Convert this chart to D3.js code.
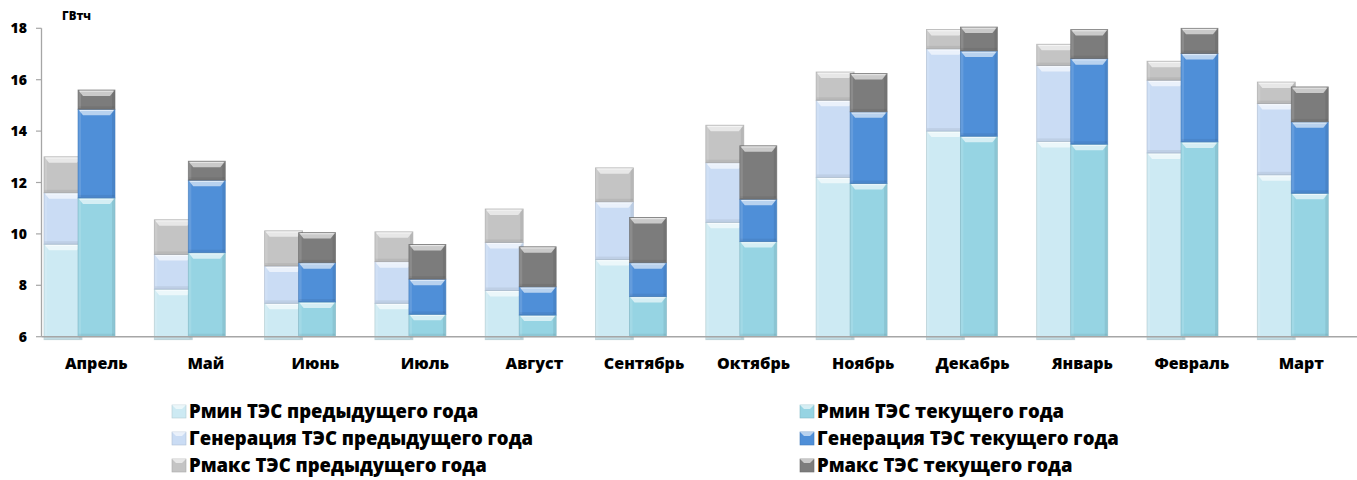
<!DOCTYPE html>
<html><head><meta charset="utf-8">
<script src="https://cdn.jsdelivr.net/npm/d3@7"></script>
<style>
body{margin:0;background:#fff;}
text{font-family:"Open Sans","Noto Sans",sans-serif;font-weight:800;fill:#000;}
</style></head>
<body><svg id="c" width="1357" height="480"></svg>
<script>
const months = ['Апрель','Май','Июнь','Июль','Август','Сентябрь','Октябрь','Ноябрь','Декабрь','Январь','Февраль','Март'];
// levels (ГВтч) previous year
const prevPmin = [9.6,7.85,7.3,7.3,7.8,9.0,10.45,12.2,14.0,13.6,13.15,12.3];
const prevGen  = [11.6,9.2,8.75,8.92,9.67,11.25,12.77,15.2,17.2,16.55,15.98,15.07];
const prevPmax = [13.0,10.55,10.12,10.08,10.97,12.57,14.23,16.3,17.95,17.38,16.72,15.91];
// levels current year
const curPmin = [11.4,9.27,7.35,6.87,6.84,7.56,9.7,11.96,13.8,13.49,13.58,11.58];
const curGen  = [14.85,12.09,8.88,8.24,7.94,8.88,11.35,14.75,17.12,16.82,17.02,14.36];
const curPmax = [15.6,12.83,10.05,9.59,9.5,10.64,13.43,16.24,18.05,17.95,18.0,15.72];
const yTicks = [6,8,10,12,14,16,18];
const unitLabel = 'ГВтч';
const legendPrev = ['Рмин ТЭС предыдущего года','Генерация ТЭС предыдущего года','Рмакс ТЭС предыдущего года'];
const legendCur  = ['Рмин ТЭС текущего года','Генерация ТЭС текущего года','Рмакс ТЭС текущего года'];
const colPrev = ['#cdeaf3','#cadcf4','#c4c4c4'];
const colCur  = ['#96d4e3','#4f8fd8','#7c7c7c'];

const svg = d3.select('#c');
const y = d3.scaleLinear().domain([6,18]).range([336.7,28.3]);
const x = d3.scaleBand().domain(months).range([41.5, 41.5+12*110.3]);
const xl = d3.scaleBand().domain(months).range([41.5, 41.5+12*109.55]);

function seg(g, x0, w, lo, hi, col, extraBottom){
  const yt = y(hi), yb = y(lo) + (extraBottom||0);
  const h = yb - yt;
  if (h <= 0) return;
  const c = d3.color(col);
  g.append('rect').attr('x',x0).attr('y',yt).attr('width',w).attr('height',h)
    .attr('fill',col).attr('stroke',c.darker(0.5)).attr('stroke-width',0.8).attr('stroke-opacity',0.7);
  g.append('rect').attr('x',x0+w-3).attr('y',yt+1).attr('width',2.5).attr('height',Math.max(0,h-2))
    .attr('fill','#000').attr('opacity',0.07);
  g.append('rect').attr('x',x0+0.5).attr('y',yt+1).attr('width',2.5).attr('height',Math.max(0,h-2))
    .attr('fill','#fff').attr('opacity',0.12);
  const bh = Math.min(3,h/4);
  g.append('rect').attr('x',x0+0.5).attr('y',yb-bh).attr('width',w-1).attr('height',bh)
    .attr('fill','#000').attr('opacity',0.06);
  const th = Math.min(6, h/2);
  g.append('path')
    .attr('d',`M${x0+0.5},${yt+0.5}L${x0+w-0.5},${yt+0.5}L${x0+w-5},${yt+th}L${x0+5},${yt+th}Z`)
    .attr('fill','#fff').attr('opacity',0.6);
  g.append('line').attr('x1',x0+2).attr('x2',x0+w-2).attr('y1',yt+1.2).attr('y2',yt+1.2)
    .attr('stroke','#fff').attr('stroke-width',1).attr('opacity',0.6);
}

const gb = svg.append('g');
months.forEach((m,i)=>{
  const x0 = x(m);
  const px = x0+2.5, pw = 38;
  seg(gb, px, pw, 6, prevPmin[i], colPrev[0], 3);
  seg(gb, px, pw, prevPmin[i], prevGen[i], colPrev[1]);
  seg(gb, px, pw, prevGen[i], prevPmax[i], colPrev[2]);
});
months.forEach((m,i)=>{
  const x0 = x(m);
  const cx = x0+36.5, cw = 37;
  seg(gb, cx, cw, 6, curPmin[i], colCur[0]);
  seg(gb, cx, cw, curPmin[i], curGen[i], colCur[1]);
  seg(gb, cx, cw, curGen[i], curPmax[i], colCur[2]);
});

const axG = svg.append('g');
axG.append('line').attr('x1',41.5).attr('x2',41.5).attr('y1',y(18)).attr('y2',y(6)).attr('stroke','#a6a6a6').attr('stroke-width',1.3);
axG.append('line').attr('x1',41.5).attr('x2',1357).attr('y1',y(6)).attr('y2',y(6)).attr('stroke','#a6a6a6').attr('stroke-width',1.5);
yTicks.forEach(t=>{
  axG.append('line').attr('x1',36).attr('x2',41.5).attr('y1',y(t)).attr('y2',y(t)).attr('stroke','#a6a6a6').attr('stroke-width',1.2);
  axG.append('text').attr('x',27).attr('y',y(t)+5).attr('text-anchor','end').attr('font-size',14).text(t);
});
axG.append('text').attr('x',62).attr('y',20).attr('font-size',11.5).text(unitLabel);
months.forEach(m=>{
  axG.append('text').attr('x',xl(m)+xl.bandwidth()/2).attr('y',369).attr('text-anchor','middle').attr('font-size',16).text(m);
});

const lg = svg.append('g');
function legendItem(xm, yb, col, label){
  lg.append('rect').attr('x',xm).attr('y',yb-13).attr('width',14).attr('height',13).attr('fill',col).attr('stroke',d3.color(col).darker(0.4)).attr('stroke-width',0.6);
  lg.append('path').attr('d',`M${xm},${yb-13}L${xm+14},${yb-13}L${xm+10},${yb-9}L${xm+4},${yb-9}Z`).attr('fill','#fff').attr('opacity',0.6);
  lg.append('text').attr('x',xm+17).attr('y',yb).attr('font-size',18.5).text(label);
}
const rowsY = [418,445,472];
legendPrev.forEach((l,i)=>legendItem(172,rowsY[i],colPrev[i],l));
legendCur.forEach((l,i)=>legendItem(800,rowsY[i],colCur[i],l));
</script></body></html>
